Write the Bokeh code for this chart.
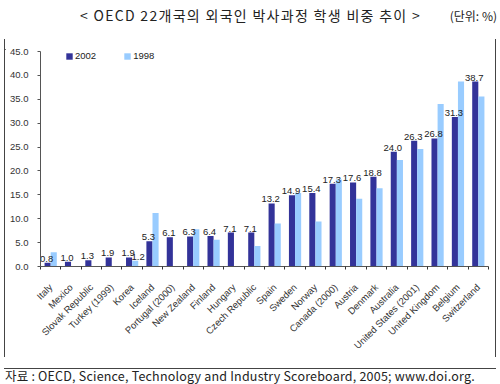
import math
from bokeh.plotting import figure
from bokeh.models import (ColumnDataSource, FixedTicker, NumeralTickFormatter,
                          Legend, LegendItem, Div, Range1d)
from bokeh.layouts import column, row
from bokeh.core.properties import value
from bokeh.embed import file_html
from bokeh.resources import INLINE

title_text = "&lt; OECD 22개국의 외국인 박사과정 학생 비중 추이 &gt;"
unit_text = "(단위: %)"
source_text = "자료 : OECD, Science, Technology and Industry Scoreboard, 2005; www.doi.org."

countries = ["Italy", "Mexico", "Slovak Republic", "Turkey (1999)", "Korea", "Iceland",
             "Portugal (2000)", "New Zealand", "Finland", "Hungary", "Czech Republic",
             "Spain", "Sweden", "Norway", "Canada (2000)", "Austria", "Denmark",
             "Australia", "United States (2001)", "United Kingdom", "Belgium", "Switzerland"]
v2002 = [0.8, 1.0, 1.3, 1.9, 1.9, 5.3, 6.1, 6.3, 6.4, 7.1, 7.1,
         13.2, 14.9, 15.4, 17.3, 17.6, 18.8, 24.0, 26.3, 26.8, 31.3, 38.7]
nan = float("nan")
v1998 = [3.0, nan, nan, nan, 1.2, 11.2, nan, 7.8, 5.6, nan, 4.3,
         9.0, 15.4, 9.4, 18.2, 14.2, 16.4, 22.3, 24.6, 34.0, 38.7, 35.6]
label_1998 = ["", "", "", "", "1.2", "", "", "", "", "", "",
              "", "", "", "", "", "", "", "", "", "", ""]
y_ticks = [0, 5, 10, 15, 20, 25, 30, 35, 40, 45]
series_names = ["2002", "1998"]

DARK = "#333399"
LIGHT = "#99CCFF"
BORDER = "#444444"
FONT = "Liberation Sans"
KFONT = "Noto Sans CJK KR"

n = len(countries)
centers = [i + 0.5 for i in range(n)]
src = ColumnDataSource(dict(
    x02=[c - 0.15 for c in centers],
    x98=[c + 0.15 for c in centers],
    v02=v2002, v98=v1998,
    lab02=["%.1f" % v for v in v2002],
    lab98=label_1998,
))

FIG_W, FIG_H = 490, 318
p = figure(width=FIG_W, height=FIG_H, output_backend="svg", toolbar_location=None,
           x_range=Range1d(0, n), y_range=Range1d(0, 45),
           min_border_left=35, min_border_right=7, min_border_top=12, min_border_bottom=91)
p.background_fill_color = "white"
p.border_fill_color = "white"
p.outline_line_color = None
p.xgrid.visible = False
p.ygrid.visible = False

r02 = p.vbar(x="x02", top="v02", width=0.3, source=src, fill_color=DARK, line_color=None)
r98 = p.vbar(x="x98", top="v98", width=0.3, source=src, fill_color=LIGHT, line_color=None)

p.text(x="x02", y="v02", text="lab02", source=src, text_align="center",
       text_baseline="bottom", y_offset=-1, x_offset=-1, text_font=value(FONT),
       text_font_size="9.5px", text_color="#222222")
p.text(x="x98", y="v98", text="lab98", source=src, text_align="center",
       text_baseline="bottom", y_offset=-1, x_offset=3, text_font=value(FONT),
       text_font_size="9.5px", text_color="#222222")

# y axis
ya = p.yaxis[0]
ya.ticker = FixedTicker(ticks=y_ticks)
ya.formatter = NumeralTickFormatter(format="0.0")
ya.major_tick_out = 3
ya.major_tick_in = 0
ya.minor_tick_line_color = None
ya.major_label_standoff = 9
ya.major_label_text_font = FONT
ya.major_label_text_font_size = "9.5px"
ya.major_label_text_color = "#333333"
ya.axis_line_color = "#555555"
ya.major_tick_line_color = "#555555"

# x axis
xa = p.xaxis[0]
xa.ticker = FixedTicker(ticks=centers, minor_ticks=list(range(n + 1)))
xa.major_label_overrides = {c: name for c, name in zip(centers, countries)}
xa.major_tick_in = 0
xa.major_tick_out = 0
xa.minor_tick_in = 0
xa.minor_tick_out = 3
xa.minor_tick_line_color = "#333333"
xa.axis_line_color = "#555555"
xa.major_label_orientation = math.pi / 4
xa.major_label_standoff = 16
xa.major_label_text_font = FONT
xa.major_label_text_font_size = "9.5px"
xa.major_label_text_color = "#333333"

legend = Legend(items=[LegendItem(label=series_names[0], renderers=[r02]),
                       LegendItem(label=series_names[1], renderers=[r98])],
                location=(25, 205), orientation="horizontal",
                glyph_width=8, glyph_height=8, label_height=10,
                label_standoff=2, spacing=27, padding=0, margin=0,
                border_line_color=None, background_fill_alpha=0,
                label_text_font=FONT, label_text_font_size="9.5px",
                label_text_color="#222222")
p.add_layout(legend, "center")

title_div = Div(width=500, height=38, margin=0, text=(
    '<div style="position:relative;width:500px;height:38px;font-family:\'%s\';color:#222;">'
    '<span style="position:absolute;left:80px;top:7px;font-size:14px;line-height:16px;letter-spacing:1.3px;white-space:nowrap;">%s</span>'
    '<span style="position:absolute;right:3px;top:9px;font-size:12px;line-height:14px;white-space:nowrap;">%s</span>'
    '</div>') % (KFONT, title_text, unit_text))


def hline():
    return Div(width=500, height=1, margin=0, text=(
        '<div style="margin-left:4px;width:492px;height:1px;background:%s;"></div>' % BORDER))


def vline():
    return Div(width=1, height=FIG_H, margin=0, text=(
        '<div style="width:1px;height:%dpx;background:%s;"></div>' % (FIG_H, BORDER)))


spacer = Div(width=4, height=FIG_H, margin=0, text="")
mid = row(spacer, vline(), p, vline(), spacing=0)

source_div = Div(width=500, height=26, margin=0, text=(
    '<div style="position:relative;width:500px;height:26px;font-family:\'%s\';color:#222;">'
    '<span style="position:absolute;left:5px;top:11px;font-size:12.5px;line-height:14px;letter-spacing:0.2px;white-space:nowrap;">%s</span>'
    '</div>') % (KFONT, source_text))

layout = column(title_div, hline(), mid, hline(), source_div, spacing=0)

open("out.html", "w").write(file_html(layout, INLINE))
